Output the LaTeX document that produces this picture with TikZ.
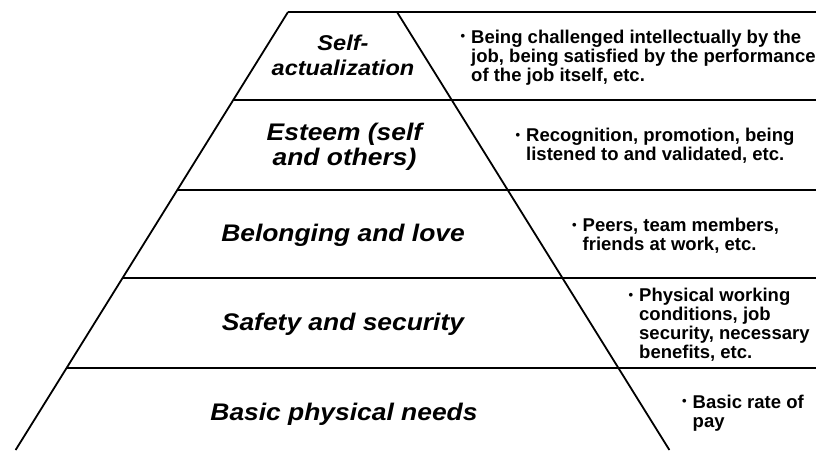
\documentclass[tikz,border=0pt]{standalone}
\usepackage{fontspec}
\setmainfont{Liberation Sans}
\newfontfamily\lblfont{Liberation Sans}[FakeStretch=1.1]

\newcommand\lines[1]{\vtop{\let\\\cr\halign{\hfil##\hfil\cr#1\crcr}}}
\newcommand\pitem[1]{\makebox[10.5pt][l]{\raisebox{2.5pt}{\fontsize{13}{13}\selectfont\textbullet}}\vtop{\let\\\cr\halign{##\hfil\cr#1\crcr}}}

\begin{document}
\begin{tikzpicture}[x=1pt, y=-1pt,
    level/.style={font=\lblfont\bfseries\itshape\fontsize{24}{25.7}\selectfont, inner sep=0pt, anchor=base},
    note/.style={font=\bfseries\fontsize{18.5}{19}\selectfont, inner sep=0pt, anchor=base west},
    rung/.style={line width=2.6pt},
    side/.style={line width=1.8pt}]
    \useasboundingbox (0,0) rectangle (816,450);
    \coordinate (tl) at (288,12);
    \coordinate (tr) at (397,12);
    \coordinate (bl) at (15.6,450);
    \coordinate (br) at (669.4,450);
    \draw[side] (tl) -- (bl);
    \draw[side] (tr) -- (br);
    \draw[rung] (tl) -- (816,12);
    \foreach \y in {100,190,278,368}
        \draw[rung] ({288-0.622*(\y-12)},\y) -- (816,\y);
    \node[level] (selfact) at (343,50.7) {\fontsize{21.4}{24.3}\selectfont\lines{Self-\\actualization}};
    \node[level] (esteem) at (344.5,140) {\lines{Esteem (self\\and others)}};
    \node[level] (belong) at (343,241.7) {Belonging and love};
    \node[level] (safety) at (343,330) {Safety and security};
    \node[level] (basic) at (344,420) {Basic physical needs};
    \node[note] (intellect) at (460.5,43.3) {\pitem{Being challenged intellectually by the\\job, being satisfied by the performance\\of the job itself, etc.}};
    \node[note] (recog) at (515.5,141.7) {\pitem{Recognition, promotion, being\\listened to and validated, etc.}};
    \node[note] (peers) at (572,231.7) {\pitem{Peers, team members,\\friends at work, etc.}};
    \node[note] (work) at (628.5,301.7) {\pitem{Physical working\\conditions, job\\security, necessary\\benefits, etc.}};
    \node[note] (pay) at (682,408) {\pitem{Basic rate of\\pay}};
\end{tikzpicture}
\end{document}
